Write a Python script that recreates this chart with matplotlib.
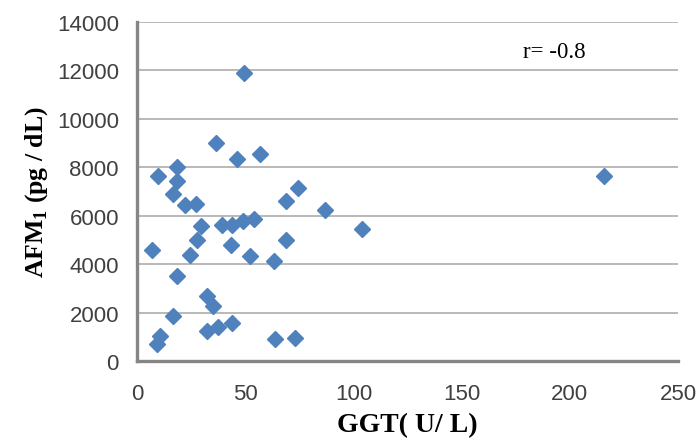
import matplotlib
matplotlib.use("Agg")
import matplotlib.pyplot as plt

# GGT (U/L) vs AFM1 (pg/dL)
ggt = [49.6, 36.5, 46.4, 56.8, 18.6, 9.9, 18.3, 16.8, 22.2, 27.3,
       74.2, 68.9, 86.9, 216.0, 29.6, 27.6, 39.1, 43.8, 49.1, 54.2,
       43.3, 6.8, 24.5, 52.2, 68.9, 63.5, 103.8, 18.3, 32.2, 35.3,
       16.5, 10.6, 9.1, 32.2, 37.6, 43.8, 63.9, 73.0]
afm1 = [11900, 9000, 8360, 8530, 8000, 7650, 7420, 6900, 6460, 6480,
        7130, 6620, 6240, 7650, 5560, 4980, 5600, 5620, 5780, 5850,
        4800, 4600, 4390, 4320, 4980, 4110, 5440, 3500, 2680, 2290,
        1850, 1050, 720, 1255, 1390, 1570, 920, 950]

x_ticks = [0, 50, 100, 150, 200, 250]
y_ticks = [0, 2000, 4000, 6000, 8000, 10000, 12000, 14000]
r_label = "r= -0.8"

serif = "Liberation Serif"
plt.rcParams["mathtext.fontset"] = "custom"
plt.rcParams["mathtext.rm"] = serif
plt.rcParams["mathtext.bf"] = serif + ":bold"

fig = plt.figure(figsize=(6.99, 4.39), dpi=100)
ax = fig.add_axes([0.196, 0.1754, 0.774, 0.7722])

ax.plot(ggt, afm1, linestyle="none", marker="D", markersize=8.6,
        color="#4F81BD", markeredgecolor="#4F81BD", zorder=3)

ax.set_xlim(0, 250)
ax.set_ylim(0, 14000)
ax.set_xticks(x_ticks)
ax.set_yticks(y_ticks)
ax.yaxis.grid(True, color="#a6a6a6", linewidth=1.1)
ax.set_axisbelow(True)

for side in ["top", "right"]:
    ax.spines[side].set_visible(False)
for side in ["left", "bottom"]:
    ax.spines[side].set_color("#868686")
    ax.spines[side].set_linewidth(2.4)

ax.tick_params(length=0, labelsize=16, labelcolor="#404040")
ax.tick_params(axis="y", pad=13)
ax.tick_params(axis="x", pad=16)
for lab in ax.get_xticklabels() + ax.get_yticklabels():
    lab.set_fontfamily("Liberation Sans")

ax.set_xlabel("GGT( U/ L)", fontsize=20, fontweight="bold", family=serif, labelpad=6)
ax.set_ylabel(r"AFM$_\mathbf{1}$ (pg / dL)", fontsize=18.5, fontweight="bold",
              family=serif, labelpad=5)

ax.text(178.5, 12800, r_label, fontsize=16.5, family=serif, va="center", ha="left")

fig.savefig("out.png", dpi=100)
